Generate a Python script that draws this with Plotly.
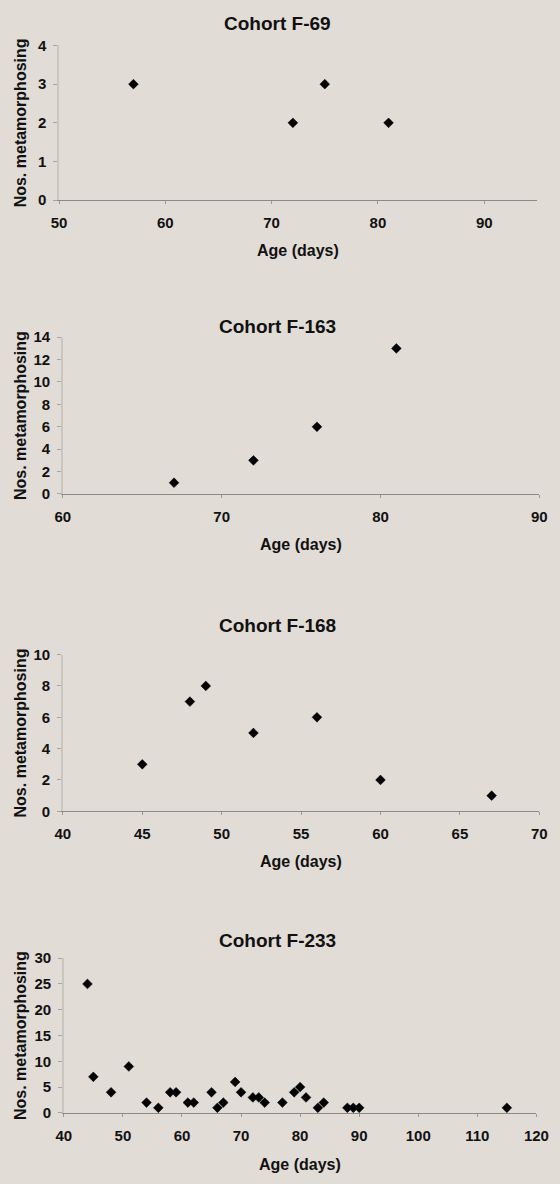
import plotly.graph_objects as go

# ---------------- data ----------------
titles = ["Cohort F-69", "Cohort F-163", "Cohort F-168", "Cohort F-233"]

f69_age = [57, 72, 75, 81]
f69_num = [3, 2, 3, 2]

f163_age = [67, 72, 76, 81]
f163_num = [1, 3, 6, 13]

f168_age = [45, 48, 49, 52, 56, 60, 67]
f168_num = [3, 7, 8, 5, 6, 2, 1]

f233_age = [44, 45, 48, 51, 54, 56, 58, 59, 61, 62, 65, 66, 67, 69, 70,
            72, 73, 74, 77, 79, 80, 81, 83, 84, 88, 89, 90, 115]
f233_num = [25, 7, 4, 9, 2, 1, 4, 4, 2, 2, 4, 1, 2, 6, 4,
            3, 3, 2, 2, 4, 5, 3, 1, 2, 1, 1, 1, 1]

x_ranges = [[50, 95], [60, 90], [40, 70], [40, 120]]
x_dticks = [10, 10, 5, 10]
y_ranges = [[0, 4], [0, 14], [0, 10], [0, 30]]
y_dticks = [1, 2, 2, 5]

# ---------------- layout geometry (pixels) ----------------
W, H = 560, 1184
plot_top = [37, 333, 655, 963]
plot_bot = [194, 492, 814, 1120]
plot_left = [53, 57, 57, 58]
plot_right = [550, 552, 552, 549]
title_y = [15, 322, 625, 945]
xlabel_y = [245, 543, 865, 1172]

BG = "#e1dcd5"
FONT = "Liberation Sans, Arial, sans-serif"
TXT = "#111111"

series = [(f69_age, f69_num), (f163_age, f163_num),
          (f168_age, f168_num), (f233_age, f233_num)]

fig = go.Figure()
annotations = []
layout_axes = {}
for i, (xs, ys) in enumerate(series):
    n = "" if i == 0 else str(i + 1)
    fig.add_trace(go.Scatter(
        x=xs, y=ys, mode="markers",
        marker=dict(symbol="diamond", size=7.5, color="black",
                    line=dict(width=0.5, color="black")),
        xaxis="x" + n, yaxis="y" + n, showlegend=False,
        cliponaxis=False,
    ))
    xd = [plot_left[i] / W, plot_right[i] / W]
    yd = [1 - plot_bot[i] / H, 1 - plot_top[i] / H]
    layout_axes["xaxis" + n] = dict(
        domain=xd, range=x_ranges[i], dtick=x_dticks[i], tick0=0,
        anchor="y" + n, showgrid=False, zeroline=False,
        showline=True, linecolor="#8c8a87", linewidth=1,
        ticks="outside", ticklen=3, tickcolor="#9a9894",
        ticklabelstandoff=6, ticklabeloverflow="allow",
        tickfont=dict(family=FONT, size=15, color=TXT, weight="bold"),
        fixedrange=True,
    )
    layout_axes["yaxis" + n] = dict(
        domain=yd, range=y_ranges[i], dtick=y_dticks[i], tick0=0,
        anchor="x" + n, showgrid=False, zeroline=False,
        showline=True, linecolor="#c9c5bf", linewidth=1.5,
        ticks="outside", ticklen=4, tickcolor="#a8a5a0",
        ticklabelstandoff=4, ticklabeloverflow="allow",
        tickfont=dict(family=FONT, size=15, color=TXT, weight="bold"),
        fixedrange=True,
    )
    annotations.append(dict(
        text=titles[i], x=0.5, y=1 - title_y[i] / H, xref="paper", yref="paper",
        xanchor="center", yanchor="middle", showarrow=False,
        font=dict(family=FONT, size=19, color=TXT, weight="bold"),
    ))
    annotations.append(dict(
        text="Age (days)", x=(plot_left[i] + plot_right[i]) / 2 / W,
        y=1 - xlabel_y[i] / H, xref="paper", yref="paper",
        xanchor="center", yanchor="middle", showarrow=False,
        font=dict(family=FONT, size=16, color=TXT, weight="bold"),
    ))
    annotations.append(dict(
        text="Nos. metamorphosing", x=13 / W,
        y=1 - (plot_top[i] + plot_bot[i]) / 2 / H, xref="paper", yref="paper",
        xanchor="center", yanchor="middle", showarrow=False, textangle=-90,
        font=dict(family=FONT, size=16, color=TXT, weight="bold"),
    ))

fig.update_layout(
    width=W, height=H,
    margin=dict(l=0, r=0, t=0, b=0),
    paper_bgcolor=BG, plot_bgcolor=BG,
    annotations=annotations,
    **layout_axes,
)

fig.write_html(
    "out.html", include_plotlyjs=True, config={"displayModeBar": False},
    post_script="document.body.style.margin='0';document.body.style.padding='0';"
                "document.body.style.background='" + BG + "';"
                "document.body.style.overflow='hidden';",
)
